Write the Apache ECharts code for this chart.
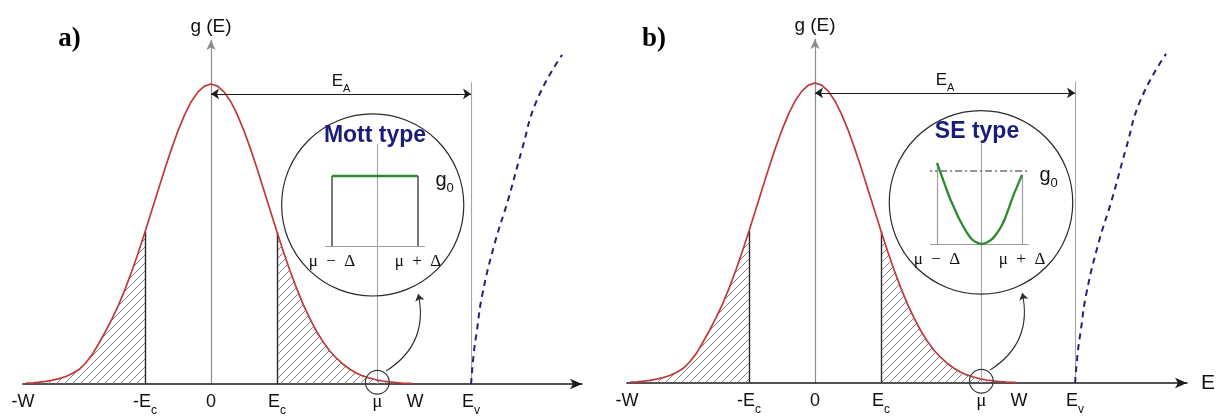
<!DOCTYPE html>
<html><head><meta charset="utf-8">
<script src="https://cdn.jsdelivr.net/npm/echarts@6/dist/echarts.min.js"></script>
<style>html,body{margin:0;padding:0;background:#fff}#c{width:1220px;height:416px}</style>
</head><body><div id="c"></div>
<script>
// ---- data (E in units of Ec, g normalised to the band peak) ----
const dosE = [-2.8,-2.7,-2.6,-2.5,-2.4,-2.3,-2.2,-2.1,-2.0,-1.9,-1.8,-1.7,-1.6,-1.5,-1.4,-1.3,-1.2,-1.1,-1.0,-0.9,-0.8,-0.7,-0.6,-0.5,-0.4,-0.3,-0.2,-0.1,0,0.1,0.2,0.3,0.4,0.5,0.6,0.7,0.8,0.9,1.0,1.1,1.2,1.3,1.4,1.5,1.6,1.7,1.8,1.9,2.0,2.1,2.2,2.3,2.4,2.5,2.6,2.7,2.8,2.9,3.0,3.05];
const dosG = [0.003,0.004,0.006,0.009,0.013,0.018,0.025,0.035,0.048,0.070,0.098,0.135,0.175,0.217,0.264,0.317,0.376,0.439,0.507,0.577,0.647,0.717,0.783,0.844,0.897,0.941,0.973,0.993,1.000,0.993,0.973,0.941,0.897,0.844,0.783,0.717,0.647,0.577,0.507,0.439,0.376,0.317,0.264,0.217,0.175,0.140,0.110,0.086,0.066,0.050,0.037,0.027,0.020,0.014,0.010,0.007,0.005,0.003,0.002,0.001];
const bandE = [3.94,3.98,4.03,4.11,4.3,4.5,4.71,4.94,5.32];
const bandG = [0,0.10,0.18,0.297,0.47,0.613,0.78,0.947,1.097];
const tickVals = [-2.85,-1,0,1,2.52,3.09,3.94];
const tickLabels = ['{b|-W}','{b|-E}{s|c}','{b|0}','{b|E}{s|c}','{m|μ}','{b|W}','{b|E}{s|v}'];
const EC = 1, MU = 2.52, EV = 3.94;
const muTop = 0.80, evTop = 1.005, eaLevel = 0.967;
const arrowFrom = [2.65, 0.043], arrowTo = [3.14, 0.30];
const bigCircle = [[2.45, 0.597, 1.38], [2.515, 0.602, 1.39]];
const smallCircle = [2.52, 0.006, 0.18];
// insets (u in units of Delta, g in units of g0)
const DELTA = 1, G0 = 1;
const seU = [-1.0,-0.9,-0.8,-0.7,-0.6,-0.5,-0.4,-0.3,-0.2,-0.1,0.05,0.2,0.3,0.4,0.5,0.6,0.7,0.8,0.9,1.0];
const seG = [1.11,0.95,0.79,0.63,0.50,0.37,0.26,0.16,0.08,0.03,0,0.03,0.07,0.14,0.23,0.35,0.51,0.67,0.81,0.945];
const dashRef = [-1.28, 1.24];
const insetLabels = ['μ  −  Δ','μ  +  Δ'];

const SANS = 'Liberation Sans';
const SERIF = 'Liberation Serif';

function hatch(){
  const c = document.createElement('canvas'); c.width = 8; c.height = 8;
  const ctx = c.getContext('2d');
  ctx.strokeStyle = '#707070'; ctx.lineWidth = 0.9;
  ctx.beginPath();
  ctx.moveTo(0,8); ctx.lineTo(8,0);
  ctx.moveTo(-2,2); ctx.lineTo(2,-2);
  ctx.moveTo(6,10); ctx.lineTo(10,6);
  ctx.stroke();
  return c;
}
const pat = hatch();
const gEc = dosG[dosE.indexOf(EC)], gMEc = dosG[dosE.indexOf(-EC)];

const tickRich = {
  b:{fontSize:18,lineHeight:18,verticalAlign:'top',color:'#111',fontFamily:SANS},
  s:{fontSize:12,lineHeight:12,padding:[12,0,0,0],verticalAlign:'top',color:'#111',fontFamily:SANS},
  m:{fontSize:19,lineHeight:18,verticalAlign:'top',color:'#111',fontFamily:SERIF}
};

function mainX(k, max, withName){
  return {
    type:'value', gridIndex:k, min:-2.85, max:max,
    name: withName ? 'E' : '', nameLocation:'end', nameGap:14,
    nameTextStyle:{fontSize:21,color:'#111',fontFamily:SANS},
    axisLine:{onZero:false,symbol:['none','arrow'],symbolSize:[8,12],lineStyle:{color:'#1a1a1a',width:1.5}},
    axisTick:{show:false,customValues:tickVals},
    splitLine:{show:false},
    axisLabel:{customValues:tickVals,margin:9,rich:tickRich,
      formatter:(v)=>{const i=tickVals.findIndex(t=>Math.abs(t-v)<1e-6);return i<0?'':tickLabels[i];}}
  };
}
function mainY(k){
  return {
    type:'value', gridIndex:k, min:0, max:1.1467,
    name:'g (E)', nameLocation:'end', nameGap:4,
    nameTextStyle:{fontSize:19,color:'#111',fontFamily:SANS},
    axisLine:{show:true,onZero:true,symbol:['none','arrow'],symbolSize:[7,10],lineStyle:{color:'#8c8c8c',width:1.2}},
    axisTick:{show:false}, axisLabel:{show:false}, splitLine:{show:false}
  };
}
function insetX(k, min, max){
  return {
    type:'value', gridIndex:k, min:min, max:max,
    axisLine:{onZero:false,lineStyle:{color:'#9c9c9c',width:1.2}},
    axisTick:{show:false,customValues:[-DELTA,DELTA]}, splitLine:{show:false},
    axisLabel:{customValues:[-DELTA,DELTA],margin:7,fontFamily:SERIF,fontSize:17,color:'#111',
      formatter:(v)=> v<0 ? insetLabels[0] : insetLabels[1]}
  };
}
function insetY(k){
  return {
    type:'value', gridIndex:k, min:0, max:1.2, position:'right',
    axisLine:{show:false}, axisTick:{show:false,customValues:[G0]}, splitLine:{show:false},
    axisLabel:{customValues:[G0],margin:11,formatter:()=> '{g|g}{s|0}',
      rich:{g:{fontSize:20,lineHeight:20,padding:[4,0,0,0],verticalAlign:'top',color:'#111',fontFamily:SANS},
            s:{fontSize:13,lineHeight:13,padding:[16,0,0,0],verticalAlign:'top',color:'#111',fontFamily:SANS}}}
  };
}

function circleItem(stroke, lw){
  return function(params, api){
    const c = api.coord([api.value(0), api.value(1)]);
    const r = api.size([api.value(2), 0])[0];
    return {type:'circle', shape:{cx:c[0],cy:c[1],r:r}, style:{fill:'none',stroke:stroke,lineWidth:lw}};
  };
}

function panelSeries(k){
  const pts = dosE.map((e,i)=>[e,dosG[i]]);
  const ax = {xAxisIndex:k, yAxisIndex:k};
  const lines = {type:'lines', coordinateSystem:'cartesian2d', xAxisIndex:k, yAxisIndex:k, silent:true};
  return [
    Object.assign({type:'line', data:pts.filter(p=>p[0]<=-EC), symbol:'none', lineStyle:{width:0},
      areaStyle:{color:{image:pat,repeat:'repeat'},opacity:1}, z:1, silent:true}, ax),
    Object.assign({type:'line', data:pts.filter(p=>p[0]>=EC), symbol:'none', lineStyle:{width:0},
      areaStyle:{color:{image:pat,repeat:'repeat'},opacity:1}, z:1, silent:true}, ax),
    Object.assign({}, lines, {data:[{coords:[[MU,0],[MU,muTop]]},{coords:[[EV,0],[EV,evTop]]}],
      lineStyle:{color:'#a6a6a6',width:1.1,opacity:1}, z:1}),
    Object.assign({}, lines, {data:[{coords:[[-EC,0],[-EC,gMEc]]},{coords:[[EC,0],[EC,gEc]]}],
      lineStyle:{color:'#2a2a2a',width:1.4,opacity:1}, z:2}),
    Object.assign({type:'line', data:pts, symbol:'none', lineStyle:{color:'#c0393b',width:1.7}, z:3, silent:true}, ax),
    Object.assign({type:'line', data:bandE.map((e,i)=>[e,bandG[i]]), symbol:'none', smooth:true, clip:false,
      lineStyle:{color:'#23237c',width:2,type:[6,5]}, z:3, silent:true}, ax),
    Object.assign({}, lines, {data:[{coords:[[0,eaLevel],[EV,eaLevel]]}], symbol:['arrow','arrow'], symbolSize:8,
      lineStyle:{color:'#1a1a1a',width:1.1,opacity:1}, z:4,
      label:{show:true,position:'insideMiddleTop',distance:4,formatter:'{b|E}{s|A}',
        rich:{b:{fontSize:17,lineHeight:17,verticalAlign:'top',color:'#111',fontFamily:SANS},
              s:{fontSize:11,lineHeight:11,padding:[11,0,0,0],verticalAlign:'top',color:'#111',fontFamily:SANS}}}}),
    Object.assign({}, lines, {data:[{coords:[arrowFrom,arrowTo]}], symbol:['none','arrow'], symbolSize:7,
      lineStyle:{color:'#2a2a2a',width:1.1,opacity:1,curveness:-0.35}, z:4}),
    Object.assign({type:'custom', coordinateSystem:'cartesian2d', data:[bigCircle[k]], renderItem:circleItem('#2a2a2a',1.2), z:4, silent:true}, ax),
    Object.assign({type:'custom', coordinateSystem:'cartesian2d', data:[smallCircle], renderItem:circleItem('#3a3a3a',1.2), z:4, silent:true}, ax)
  ];
}

const insetLines = (k)=>({type:'lines', coordinateSystem:'cartesian2d', xAxisIndex:k, yAxisIndex:k, silent:true, z:6});
const series = [].concat(
  panelSeries(0), panelSeries(1),
  [
    Object.assign({}, insetLines(2), {data:[{coords:[[-DELTA,0],[-DELTA,G0]]},{coords:[[DELTA,0],[DELTA,G0]]}],
      lineStyle:{color:'#4a4a4a',width:1.5,opacity:1}}),
    {type:'line', xAxisIndex:2, yAxisIndex:2, data:[[-DELTA,G0],[DELTA,G0]], symbol:'none', clip:false,
      lineStyle:{color:'#2f8a2f',width:2.6}, z:7, silent:true},
    Object.assign({}, insetLines(3), {data:[{coords:[[-DELTA,0],[-DELTA,seG[0]]]},{coords:[[DELTA,0],[DELTA,seG[seG.length-1]]]}],
      lineStyle:{color:'#9e9e9e',width:1.2,opacity:1}}),
    {type:'line', xAxisIndex:3, yAxisIndex:3, data:[[dashRef[0],G0],[dashRef[1],G0]], symbol:'none', clip:false,
      lineStyle:{color:'#2a2a2a',width:1.1,type:[7,3,2,3]}, z:6, silent:true},
    {type:'line', xAxisIndex:3, yAxisIndex:3, data:seU.map((u,i)=>[u,seG[i]]), symbol:'none', smooth:0.3, clip:false,
      lineStyle:{color:'#2f8a2f',width:2.3}, z:7, silent:true}
  ]
);

const gridBase = {outerBoundsMode:'none', containLabel:false};
const option = {
  backgroundColor:'#fff',
  animation:false,
  textStyle:{fontFamily:SANS},
  grid:[
    Object.assign({left:22.9, top:40, width:559.1, height:344}, gridBase),
    Object.assign({left:626.9, top:39, width:560.1, height:344}, gridBase),
    Object.assign({left:325.5, top:162, width:98.9, height:84}, gridBase),
    Object.assign({left:930.6, top:156.4, width:97.8, height:87.6}, gridBase)
  ],
  xAxis:[mainX(0,5.621,false), mainX(1,5.636,true), insetX(2,-1.15,1.15), insetX(3,-1.15,1.15)],
  yAxis:[mainY(0), mainY(1), insetY(2), insetY(3)],
  graphic:[
    {type:'text', x:69.5, y:39, style:{text:'a)', font:'bold 27px "Liberation Serif"', fill:'#000', align:'center', verticalAlign:'middle'}},
    {type:'text', x:654, y:39, style:{text:'b)', font:'bold 27px "Liberation Serif"', fill:'#000', align:'center', verticalAlign:'middle'}},
    {type:'text', x:375, y:136, z:10, style:{text:'Mott type', font:'bold 23px "Liberation Sans"', fill:'#1c1c7a', align:'center', verticalAlign:'middle'}},
    {type:'text', x:977, y:132, z:10, style:{text:'SE type', font:'bold 23px "Liberation Sans"', fill:'#1c1c7a', align:'center', verticalAlign:'middle'}}
  ],
  series:series
};
const chart = echarts.init(document.getElementById('c'));
chart.setOption(option);
</script>
</body></html>
